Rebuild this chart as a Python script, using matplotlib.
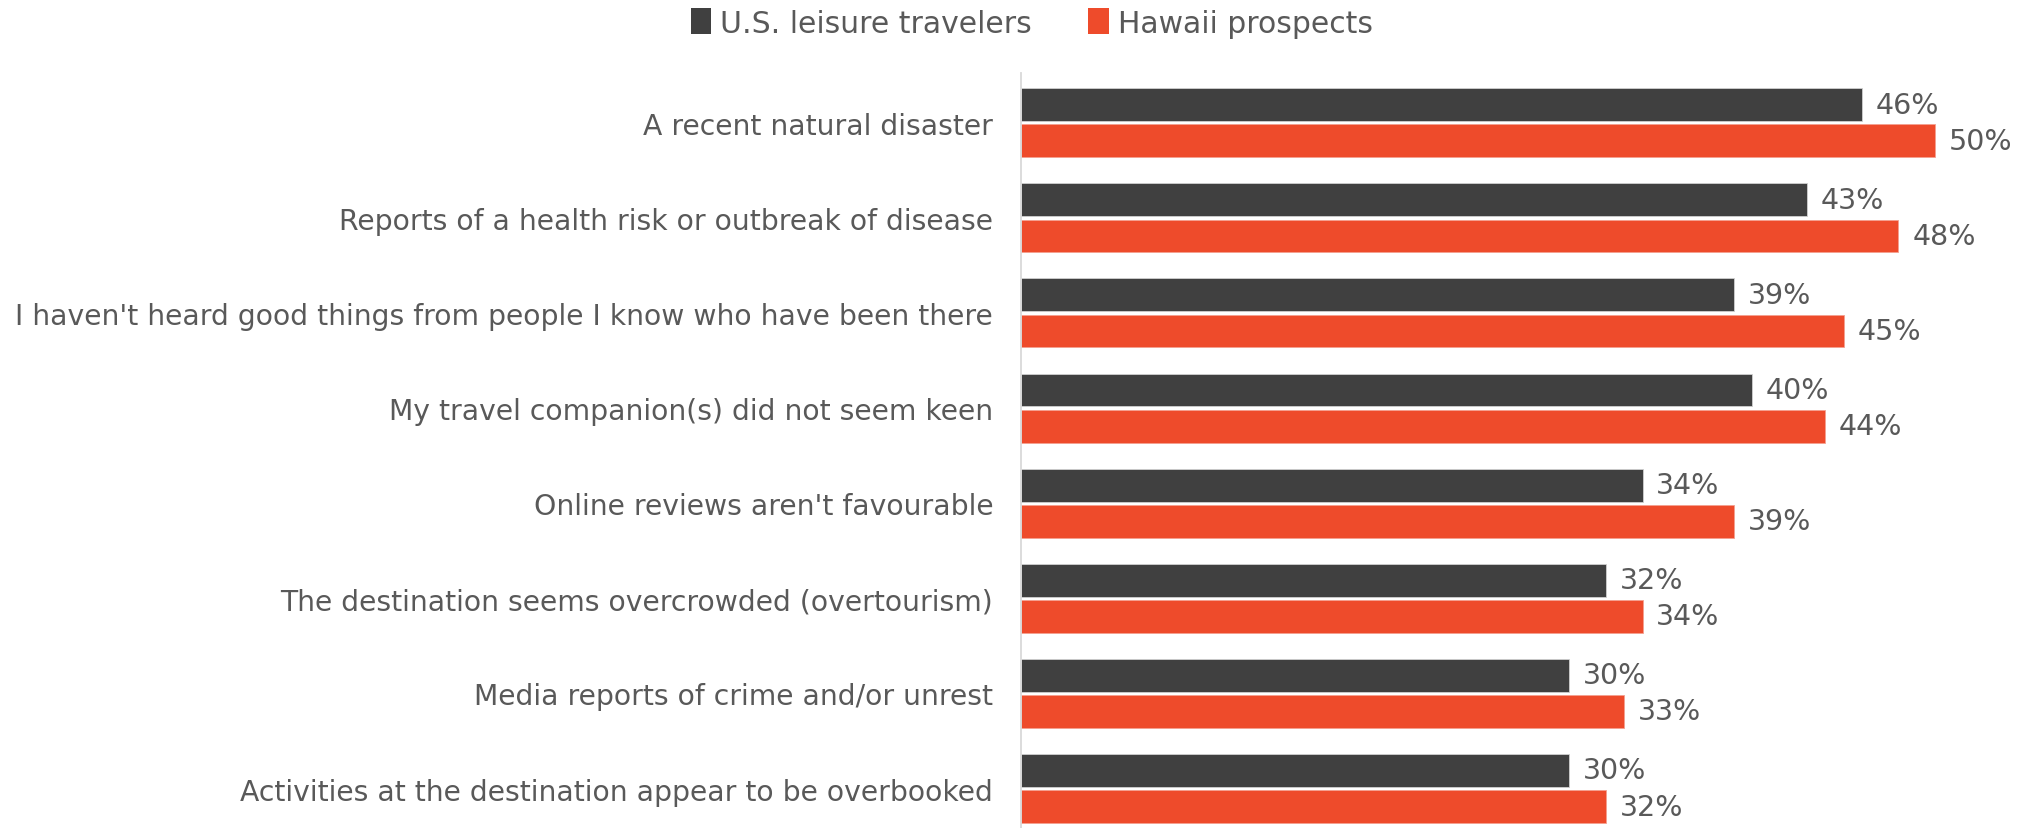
import matplotlib
matplotlib.use("Agg")
import matplotlib.pyplot as plt
import numpy as np
from matplotlib.patches import Patch

categories = [
    "A recent natural disaster",
    "Reports of a health risk or outbreak of disease",
    "I haven't heard good things from people I know who have been there",
    "My travel companion(s) did not seem keen",
    "Online reviews aren't favourable",
    "The destination seems overcrowded (overtourism)",
    "Media reports of crime and/or unrest",
    "Activities at the destination appear to be overbooked",
]
us_leisure = [46, 43, 39, 40, 34, 32, 30, 30]
hawaii = [50, 48, 45, 44, 39, 34, 33, 32]
series_names = ["U.S. leisure travelers", "Hawaii prospects"]

dark = "#404040"
orange = "#EE4B2B"
textc = "#595959"

plt.rcParams['font.family'] = ['DejaVu Sans']

W, H = 2031, 829
fig = plt.figure(figsize=(W / 100, H / 100), dpi=100)
x0 = 1021
ppu = 18.28
xmax = 55
ax = fig.add_axes([x0 / W, 0, xmax * ppu / W, 1 - 74 / H])

y = np.arange(len(categories))
off = 0.19
h = 0.345
b1 = ax.barh(y - off, us_leisure, height=h, color=dark, edgecolor="#cfcfcf", linewidth=0.6)
b2 = ax.barh(y + off, hawaii, height=h, color=orange, edgecolor="#f4a090", linewidth=0.6)

for bars, vals in ((b1, us_leisure), (b2, hawaii)):
    for r, v in zip(bars, vals):
        ax.text(v + 0.75, r.get_y() + r.get_height() / 2, f"{v}%", va="center", ha="left",
                fontsize=20.5, color=textc)

ax.set_xlim(0, xmax)
ax.set_ylim(7.415, -0.523)
ax.set_yticks(y)
ax.set_yticklabels(categories, fontsize=20.3, color=textc)
ax.tick_params(axis="y", length=0, pad=20)
ax.set_xticks([])
for s in ("top", "right", "bottom"):
    ax.spines[s].set_visible(False)
ax.spines["left"].set_color("#d9d9d9")
ax.spines["left"].set_linewidth(1.3)

handles = [Patch(facecolor=dark, label=series_names[0]), Patch(facecolor=orange, label=series_names[1])]
fig.legend(handles=handles, loc="center", bbox_to_anchor=(0.508, 1 - 24 / H), ncol=2, frameon=False,
           fontsize=21.5, handlelength=0.68, handleheight=0.95, handletextpad=0.3, columnspacing=1.9,
           labelcolor=textc, borderpad=0)

fig.savefig("out.png", dpi=100)
